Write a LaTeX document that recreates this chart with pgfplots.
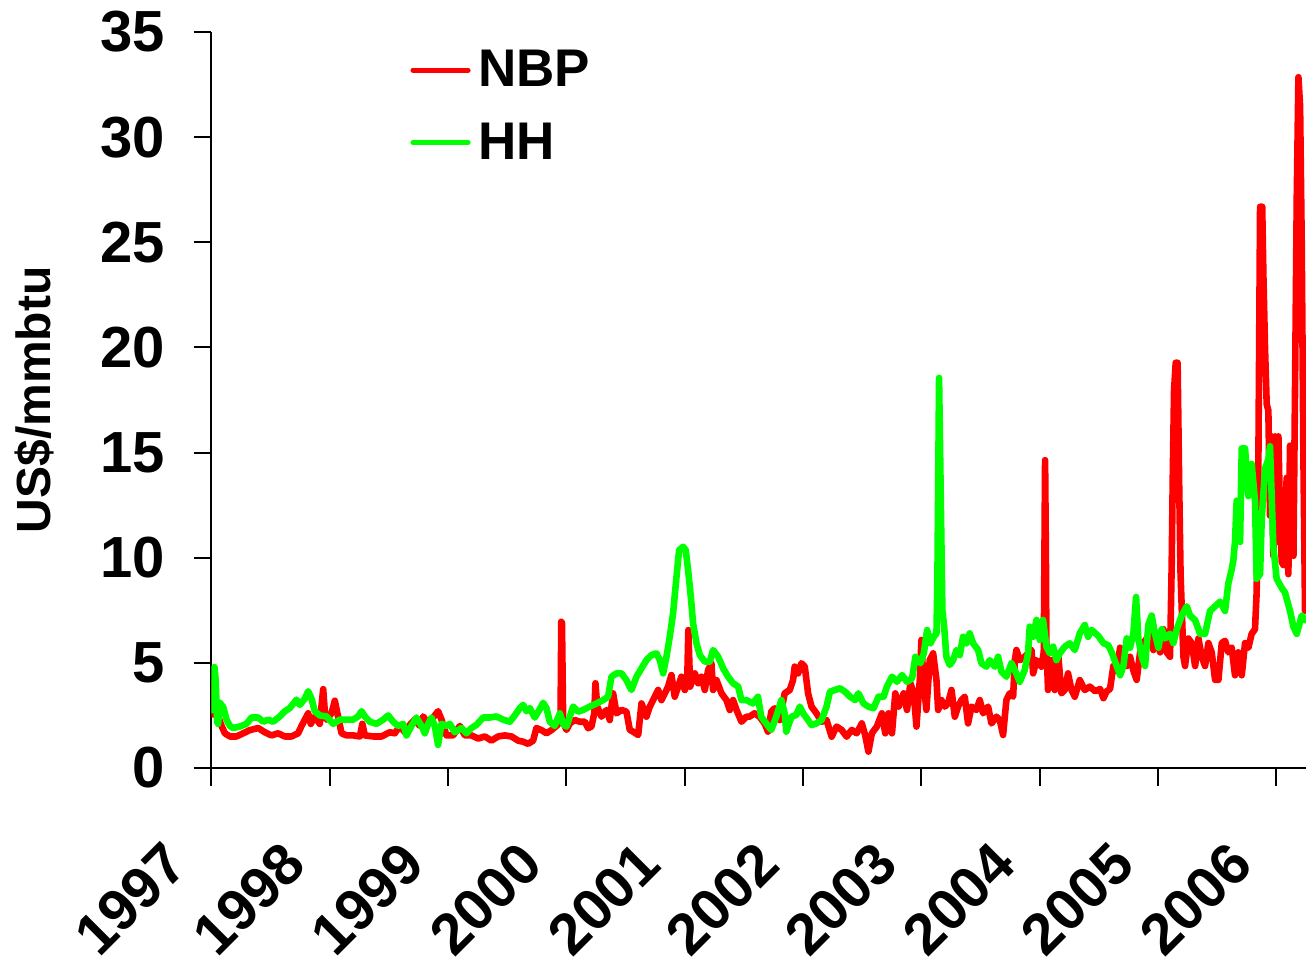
\documentclass[border=0pt]{standalone}
\usepackage{fontspec}
\setmainfont{Liberation Sans}
\usepackage{pgfplots}
\pgfplotsset{compat=1.18}
\definecolor{nbpred}{RGB}{255,0,0}
\definecolor{hhgreen}{RGB}{0,255,0}
\begin{document}
\begin{tikzpicture}
\useasboundingbox (-105.75pt,-97pt) rectangle (547.25pt,384pt);
\begin{axis}[
  scale only axis, width=547.25pt, height=368pt,
  xmin=1997, xmax=2006.25, ymin=0, ymax=35,
  axis x line=bottom, axis y line=left,
  axis line style={-, line width=1pt, black},
  xtick={1997,1998,1999,2000,2001,2002,2003,2004,2005,2006},
  xticklabels={1997,1998,1999,2000,2001,2002,2003,2004,2005,2006},
  ytick={0,5,10,15,20,25,30,35},
  tick align=outside, major tick length=9pt,
  tick style={line width=1pt, black},
  /pgf/number format/assume math mode=true,
  tick label style={font=\bfseries\fontsize{29}{31}\selectfont},
  yticklabel style={anchor=east, inner sep=0pt, xshift=-14pt},
  xticklabel style={anchor=east, inner sep=0pt, xshift=-17.5pt, yshift=-33.5pt, rotate=45},
  every axis y label/.style={at={(axis description cs:-0.1613,0.5)}, rotate=90, anchor=center},
  ylabel={\bfseries\fontsize{24}{26}\selectfont US\$/mmbtu},
  legend style={at={(rel axis cs:0.1814,0.981)}, anchor=north west, draw=none, fill=none,
    font=\bfseries\fontsize{26.5}{29}\selectfont, row sep=12.5pt, inner sep=0pt},
  legend cell align=left,
  legend image code/.code={\draw[#1, line width=2.6pt, line cap=round] (0pt,0pt) -- (27.5pt,0pt); \path (29pt,0pt);},
  clip=true,
]
\addplot[nbpred, line width=3.3pt, line join=round] coordinates {
(1997.000,2.4)(1997.006,4.0)(1997.028,2.6)(1997.056,2.45)(1997.085,2.0)(1997.113,1.65)
(1997.155,1.5)(1997.211,1.5)(1997.268,1.65)(1997.324,1.8)(1997.394,1.9)(1997.451,1.7)
(1997.507,1.55)(1997.563,1.65)(1997.620,1.5)(1997.676,1.5)(1997.732,1.65)(1997.761,2.0)
(1997.789,2.3)(1997.817,2.6)(1997.839,2.1)(1997.873,2.45)(1997.915,2.1)(1997.944,3.75)
(1997.960,2.5)(1997.972,2.3)(1998.014,2.6)(1998.042,3.2)(1998.070,2.45)(1998.099,1.65)
(1998.141,1.55)(1998.197,1.55)(1998.254,1.5)(1998.275,2.1)(1998.296,1.55)(1998.366,1.5)
(1998.437,1.5)(1998.507,1.7)(1998.549,1.65)(1998.592,2.0)(1998.634,1.7)(1998.676,2.05)
(1998.718,2.3)(1998.761,2.0)(1998.789,2.45)(1998.831,2.1)(1998.873,2.4)(1998.915,2.7)
(1998.944,2.3)(1998.986,1.55)(1999.042,1.55)(1999.099,2.0)(1999.141,1.55)(1999.197,1.55)
(1999.254,1.4)(1999.310,1.5)(1999.366,1.3)(1999.423,1.5)(1999.479,1.55)(1999.535,1.5)
(1999.592,1.3)(1999.634,1.25)(1999.676,1.15)(1999.718,1.3)(1999.746,1.9)(1999.789,1.8)
(1999.831,1.65)(1999.873,1.8)(1999.915,2.0)(1999.950,2.2)(1999.956,6.95)(1999.962,6.9)
(1999.972,2.2)(2000.000,1.81)(2000.028,2.12)(2000.070,2.28)(2000.113,2.2)(2000.155,2.2)
(2000.183,1.89)(2000.211,1.97)(2000.235,2.6)(2000.245,4.03)(2000.260,2.92)(2000.296,2.44)
(2000.338,2.76)(2000.366,2.28)(2000.394,3.55)(2000.423,2.6)(2000.465,2.76)(2000.507,2.68)
(2000.535,1.81)(2000.563,1.73)(2000.606,1.57)(2000.634,3.07)(2000.676,2.44)(2000.704,2.92)
(2000.746,3.39)(2000.775,3.71)(2000.803,3.23)(2000.831,3.55)(2000.859,3.87)(2000.887,4.42)
(2000.915,3.39)(2000.944,3.87)(2000.972,4.34)(2001.000,3.71)(2001.020,4.0)(2001.030,6.56)
(2001.045,3.87)(2001.085,4.5)(2001.113,4.03)(2001.141,4.34)(2001.169,3.71)(2001.197,4.66)
(2001.225,4.98)(2001.239,3.71)(2001.268,4.18)(2001.310,3.55)(2001.352,3.23)(2001.380,2.76)
(2001.408,3.23)(2001.437,2.76)(2001.479,2.2)(2001.521,2.44)(2001.547,2.44)(2001.589,2.6)
(2001.632,2.44)(2001.674,2.12)(2001.703,1.73)(2001.731,2.68)(2001.759,2.84)(2001.802,2.28)
(2001.844,3.55)(2001.887,3.71)(2001.915,4.18)(2001.929,4.82)(2001.958,4.5)(2001.986,4.98)
(2002.014,4.82)(2002.042,3.55)(2002.071,2.92)(2002.113,2.6)(2002.156,2.2)(2002.198,2.28)
(2002.241,1.49)(2002.283,1.97)(2002.326,1.81)(2002.368,1.49)(2002.411,1.81)(2002.453,1.65)
(2002.496,2.12)(2002.524,1.57)(2002.552,0.78)(2002.581,1.65)(2002.623,1.97)(2002.666,2.6)
(2002.694,1.65)(2002.722,2.6)(2002.751,1.65)(2002.779,3.55)(2002.807,2.92)(2002.850,3.55)
(2002.878,2.76)(2002.907,4.03)(2002.935,3.55)(2002.958,1.97)(2002.986,4.18)(2003.000,6.09)
(2003.014,4.34)(2003.042,2.76)(2003.070,5.13)(2003.099,5.45)(2003.127,4.18)(2003.141,2.76)
(2003.169,3.23)(2003.197,2.92)(2003.225,3.07)(2003.254,3.71)(2003.282,2.44)(2003.310,2.92)
(2003.338,3.23)(2003.366,3.39)(2003.394,2.12)(2003.423,2.92)(2003.465,2.76)(2003.493,3.23)
(2003.521,2.6)(2003.563,2.92)(2003.592,2.12)(2003.634,2.44)(2003.662,2.28)(2003.690,1.57)
(2003.718,3.23)(2003.746,3.55)(2003.775,3.39)(2003.789,5.13)(2003.803,5.61)(2003.831,5.13)
(2003.873,5.29)(2003.901,5.45)(2003.930,5.61)(2003.944,4.5)(2003.972,5.13)(2004.014,4.82)
(2004.034,5.5)(2004.045,14.64)(2004.052,10.0)(2004.056,5.93)(2004.070,3.71)(2004.099,5.13)
(2004.127,3.71)(2004.155,5.45)(2004.183,3.55)(2004.211,3.71)(2004.239,4.5)(2004.268,3.71)
(2004.296,3.39)(2004.338,4.18)(2004.380,3.71)(2004.423,3.87)(2004.468,3.65)(2004.510,3.76)
(2004.538,3.32)(2004.566,3.65)(2004.594,3.76)(2004.622,4.85)(2004.650,4.63)(2004.679,5.72)
(2004.707,5.29)(2004.735,4.85)(2004.763,5.29)(2004.791,4.63)(2004.819,4.19)(2004.848,5.5)
(2004.876,5.94)(2004.904,6.16)(2004.932,6.6)(2004.960,5.61)(2004.988,6.38)(2005.017,5.5)
(2005.045,6.6)(2005.073,5.5)(2005.101,5.29)(2005.115,9.65)(2005.124,13.8)(2005.135,17.96)
(2005.149,19.27)(2005.165,19.27)(2005.178,13.59)(2005.190,9.22)(2005.214,5.29)(2005.228,4.85)
(2005.256,6.16)(2005.284,5.94)(2005.313,4.85)(2005.341,6.16)(2005.369,5.29)(2005.397,4.85)
(2005.425,5.94)(2005.453,5.5)(2005.482,4.19)(2005.510,4.19)(2005.538,5.94)(2005.566,6.05)
(2005.594,5.5)(2005.622,5.72)(2005.650,4.41)(2005.678,5.5)(2005.707,4.41)(2005.735,5.94)
(2005.763,5.72)(2005.791,6.38)(2005.819,6.6)(2005.833,8.34)(2005.847,14.02)(2005.862,26.69)
(2005.880,26.69)(2005.890,23.42)(2005.904,19.92)(2005.918,17.3)(2005.932,17.0)(2005.946,12.0)
(2005.960,15.77)(2005.974,10.09)(2005.988,15.77)(2006.002,10.75)(2006.017,15.77)(2006.031,11.84)
(2006.045,9.8)(2006.059,9.65)(2006.073,12.0)(2006.087,13.8)(2006.101,9.22)(2006.115,15.33)
(2006.129,14.02)(2006.144,10.09)(2006.158,18.39)(2006.172,27.13)(2006.186,32.85)(2006.200,31.5)
(2006.214,24.95)(2006.228,14.9)(2006.242,7.47)(2006.250,14.68)
};
\addlegendentry{NBP}
\addplot[hhgreen, line width=3.3pt, line join=round] coordinates {
(1997.000,2.6)(1997.010,3.5)(1997.025,4.8)(1997.035,4.2)(1997.048,2.2)(1997.056,2.1)
(1997.070,3.1)(1997.099,2.9)(1997.127,2.3)(1997.155,2.0)(1997.183,1.9)(1997.239,1.97)
(1997.296,2.1)(1997.338,2.4)(1997.394,2.4)(1997.437,2.2)(1997.479,2.3)(1997.521,2.2)
(1997.577,2.45)(1997.620,2.7)(1997.662,2.85)(1997.718,3.25)(1997.746,3.0)(1997.789,3.3)
(1997.817,3.65)(1997.845,3.3)(1997.873,2.7)(1997.915,2.5)(1997.972,2.45)(1998.028,2.1)
(1998.085,2.3)(1998.141,2.3)(1998.197,2.3)(1998.239,2.45)(1998.268,2.7)(1998.296,2.45)
(1998.338,2.2)(1998.394,2.1)(1998.451,2.3)(1998.493,2.5)(1998.535,2.2)(1998.577,2.0)
(1998.620,2.1)(1998.648,1.55)(1998.690,2.0)(1998.732,2.4)(1998.775,2.0)(1998.803,1.65)
(1998.831,2.1)(1998.859,2.4)(1998.887,2.0)(1998.915,1.1)(1998.944,2.1)(1998.986,2.0)
(1999.014,2.1)(1999.056,1.7)(1999.113,1.9)(1999.155,1.65)(1999.197,1.9)(1999.239,2.05)
(1999.296,2.4)(1999.352,2.4)(1999.408,2.45)(1999.465,2.3)(1999.521,2.2)(1999.563,2.5)
(1999.606,2.85)(1999.634,3.0)(1999.662,2.7)(1999.690,2.85)(1999.732,2.4)(1999.775,2.8)
(1999.803,3.1)(1999.831,2.85)(1999.859,2.2)(1999.901,2.0)(1999.944,2.6)(1999.972,2.1)
(2000.000,1.97)(2000.028,2.44)(2000.056,2.92)(2000.099,2.68)(2000.141,2.76)(2000.197,2.92)
(2000.254,3.07)(2000.310,3.23)(2000.352,3.39)(2000.380,4.34)(2000.423,4.5)(2000.465,4.5)
(2000.507,4.18)(2000.549,3.71)(2000.592,4.34)(2000.634,4.74)(2000.676,5.13)(2000.718,5.37)
(2000.761,5.45)(2000.789,5.13)(2000.817,4.5)(2000.845,5.29)(2000.873,6.24)(2000.901,7.35)
(2000.930,9.1)(2000.952,10.36)(2000.986,10.52)(2001.008,10.36)(2001.028,9.41)(2001.051,8.15)
(2001.070,6.88)(2001.099,5.93)(2001.127,5.37)(2001.169,5.06)(2001.211,5.06)(2001.239,5.61)
(2001.282,5.29)(2001.324,4.74)(2001.366,4.34)(2001.408,4.03)(2001.451,3.87)(2001.479,3.23)
(2001.521,3.23)(2001.575,3.07)(2001.618,3.39)(2001.646,2.44)(2001.688,2.12)(2001.731,1.81)
(2001.773,2.44)(2001.816,3.23)(2001.844,2.6)(2001.858,1.73)(2001.901,2.44)(2001.943,2.52)
(2001.972,2.92)(2002.000,2.6)(2002.042,2.28)(2002.071,2.04)(2002.113,2.12)(2002.156,2.28)
(2002.198,2.92)(2002.227,3.63)(2002.269,3.71)(2002.312,3.79)(2002.354,3.63)(2002.397,3.39)
(2002.439,3.23)(2002.467,3.55)(2002.510,3.07)(2002.552,2.92)(2002.595,2.84)(2002.637,3.39)
(2002.680,3.39)(2002.708,3.87)(2002.751,4.34)(2002.793,4.1)(2002.836,4.42)(2002.878,4.1)
(2002.921,4.26)(2002.949,5.29)(2002.992,4.98)(2003.020,5.45)(2003.048,6.56)(2003.076,5.93)
(2003.105,6.24)(2003.127,6.4)(2003.135,9.0)(2003.149,18.55)(2003.163,13.0)(2003.177,7.5)
(2003.192,6.72)(2003.211,5.29)(2003.239,4.9)(2003.268,5.13)(2003.296,5.61)(2003.324,5.37)
(2003.352,6.24)(2003.380,5.93)(2003.408,6.4)(2003.437,5.93)(2003.479,5.61)(2003.507,4.98)
(2003.549,4.82)(2003.577,5.13)(2003.620,4.82)(2003.648,5.29)(2003.676,4.58)(2003.718,4.34)
(2003.761,4.98)(2003.789,4.66)(2003.831,4.1)(2003.873,4.66)(2003.901,5.45)(2003.915,6.72)
(2003.944,6.24)(2003.972,7.04)(2004.000,6.09)(2004.028,7.04)(2004.056,5.77)(2004.085,5.45)
(2004.113,5.77)(2004.141,5.13)(2004.169,5.45)(2004.211,5.77)(2004.254,5.93)(2004.296,5.61)
(2004.338,6.4)(2004.380,6.8)(2004.408,6.24)(2004.437,6.56)(2004.454,6.49)(2004.496,6.27)
(2004.538,5.94)(2004.580,5.83)(2004.608,5.5)(2004.650,4.85)(2004.679,4.41)(2004.707,4.85)
(2004.735,6.16)(2004.763,5.72)(2004.791,6.38)(2004.814,8.13)(2004.833,6.16)(2004.862,5.29)
(2004.890,4.85)(2004.918,6.82)(2004.946,7.25)(2004.974,6.38)(2005.003,5.72)(2005.031,6.6)
(2005.059,6.16)(2005.101,6.38)(2005.129,5.94)(2005.158,6.6)(2005.200,7.25)(2005.242,7.69)
(2005.270,7.25)(2005.313,7.03)(2005.355,6.38)(2005.397,6.38)(2005.439,7.47)(2005.482,7.69)
(2005.524,7.91)(2005.566,7.47)(2005.594,8.78)(2005.622,9.44)(2005.636,9.87)(2005.650,10.75)
(2005.664,12.71)(2005.693,10.75)(2005.707,15.2)(2005.735,15.2)(2005.763,12.93)(2005.791,14.46)
(2005.819,12.71)(2005.833,9.0)(2005.862,9.22)(2005.876,11.84)(2005.904,14.24)(2005.932,14.68)
(2005.946,15.3)(2005.974,10.53)(2006.002,9.0)(2006.045,8.56)(2006.073,8.34)(2006.115,7.47)
(2006.144,6.71)(2006.172,6.38)(2006.214,7.25)(2006.242,7.03)(2006.260,7.1)
};
\addlegendentry{HH}
\end{axis}
\end{tikzpicture}
\end{document}
